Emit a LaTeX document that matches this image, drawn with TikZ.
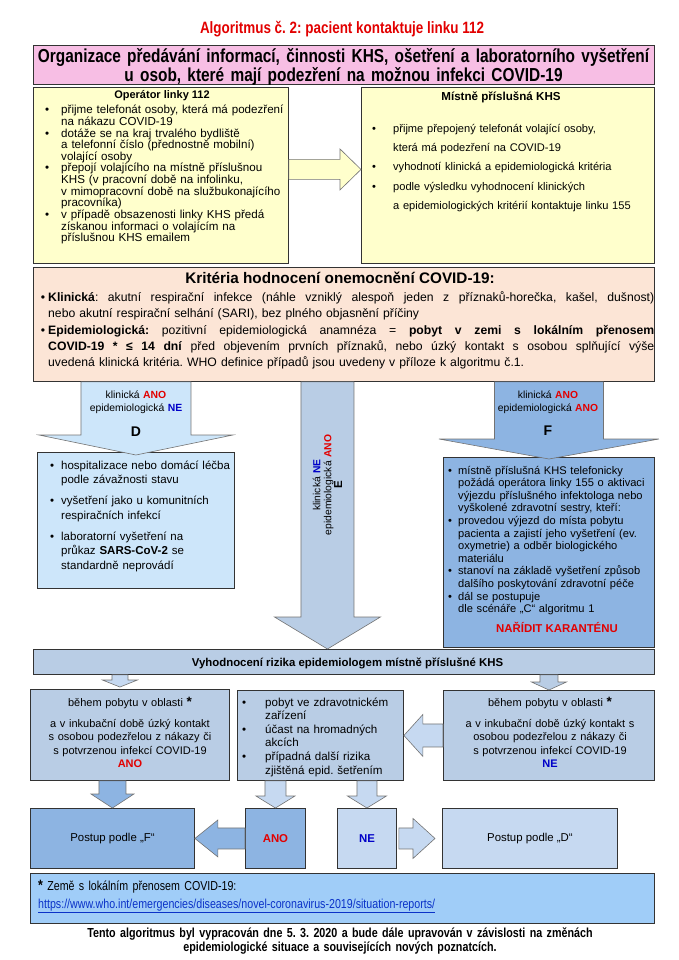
\documentclass[tikz,border=0pt]{standalone}
\usepackage{fontspec}
\setmainfont{Liberation Sans}
\newfontfamily\narrowfont{Liberation Sans}[FakeStretch=0.82]
\usepackage{tikz}
\usetikzlibrary{calc}
\definecolor{pinkHead}{RGB}{247,190,228}
\definecolor{yellowNote}{RGB}{255,255,204}
\definecolor{peachCrit}{RGB}{252,229,214}
\definecolor{skyD}{RGB}{205,230,250}
\definecolor{steelE}{RGB}{185,205,229}
\definecolor{blueF}{RGB}{141,180,226}
\definecolor{greyBlue}{RGB}{185,205,229}
\definecolor{paleBlue}{RGB}{198,217,241}
\definecolor{footBlue}{RGB}{160,205,248}
\definecolor{alarmRed}{RGB}{226,0,0}
\definecolor{noBlue}{RGB}{0,0,200}
\definecolor{linkBlue}{RGB}{10,50,200}
\frenchspacing

\newcommand{\fsz}[2]{\fontsize{#1}{#2}\selectfont}
\newcommand{\bitem}[1][14pt]{\makebox[#1][l]{\textbullet}}
\newcommand{\bcont}[1][14pt]{\hspace*{#1}}
% justified line of a given width
\newcommand{\jline}[2]{\leavevmode\hbox to #1{\spaceskip=0.278em plus 1fil minus 0.05em\relax #2}}
\newcommand{\markANO}{\textcolor{alarmRed}{\textbf{ANO}}}
\newcommand{\markNE}{\textcolor{noBlue}{\textbf{NE}}}
% block arrow: style, from, to, shaft half width, head half width, head length
\newcommand{\blockarrow}[6]{%
  \coordinate (ba-s) at (#2);
  \coordinate (ba-t) at (#3);
  \coordinate (ba-h) at ($(ba-t)!#6!(ba-s)$);
  \draw[#1] ($(ba-s)!#4!90:(ba-t)$) -- ($(ba-h)!#4!-90:(ba-s)$) -- ($(ba-h)!#5!-90:(ba-s)$)
    -- (ba-t) -- ($(ba-h)!#5!90:(ba-s)$) -- ($(ba-h)!#4!90:(ba-s)$) -- ($(ba-s)!#4!-90:(ba-t)$) -- cycle;
}
\tikzset{
  panel/.style={draw=black!80, line width=0.9pt, inner sep=0pt, anchor=north west},
  blockarr/.style={draw=black!55, line width=0.6pt},
  txt/.style={inner sep=0pt},
}

\begin{document}
\begin{tikzpicture}[x=1pt, y=-1pt]
\useasboundingbox (0,0) rectangle (679,960);
% boxes
\node[panel, fill=pinkHead, minimum width=621pt, minimum height=39pt] (head) at (33,45) {};
\node[panel, fill=yellowNote, minimum width=255pt, minimum height=176pt] (oper) at (33,87) {};
\node[panel, fill=yellowNote, minimum width=293pt, minimum height=176pt] (khs) at (361,87) {};
\node[panel, fill=peachCrit, minimum width=621pt, minimum height=114pt] (crit) at (33,267) {};
\node[panel, fill=skyD, minimum width=197pt, minimum height=136pt] (dbox) at (37,452) {};
\node[panel, fill=blueF, minimum width=211pt, minimum height=190pt] (fbox) at (443,457) {};
\node[panel, fill=greyBlue, minimum width=621pt, minimum height=25pt] (bar) at (33,649) {};
\node[panel, fill=greyBlue, minimum width=199pt, minimum height=91pt] (riskA) at (30,689) {};
\node[panel, fill=greyBlue, minimum width=166pt, minimum height=90pt] (riskB) at (237,690) {};
\node[panel, fill=greyBlue, minimum width=211pt, minimum height=90pt] (riskC) at (443,690) {};
\node[panel, fill=blueF, minimum width=164pt, minimum height=60pt, font=\fsz{11.4}{13}] (postF) at (30,808) {Postup podle „F“};
\node[panel, fill=blueF, minimum width=60pt, minimum height=60pt, font=\bfseries\fsz{11.4}{13}, text=alarmRed] (ano) at (245,808) {ANO};
\node[panel, fill=paleBlue, minimum width=59pt, minimum height=60pt, font=\bfseries\fsz{11.4}{13}, text=noBlue] (ne) at (337,808) {NE};
\node[panel, fill=paleBlue, minimum width=175pt, minimum height=60pt, font=\fsz{11.4}{13}] (postD) at (442,808) {Postup podle „D“};
\node[panel, fill=footBlue, minimum width=624pt, minimum height=50pt] (note) at (30,873) {};

% block arrows
\blockarrow{blockarr, fill=yellowNote}{[yshift=6pt]oper.east}{[yshift=6pt]oper.east -| khs.west}{10pt}{20.5pt}{21pt}
\blockarrow{blockarr, fill=skyD}{dbox.north |- crit.south}{[yshift=-3pt]dbox.north}{55pt}{97pt}{20pt}
\coordinate (eTop) at ([xshift=-16.5pt]crit.south);
\blockarrow{blockarr, fill=steelE}{eTop}{eTop |- bar.north}{26.5pt}{53pt}{32pt}
\blockarrow{blockarr, fill=blueF}{fbox.north |- crit.south}{[yshift=-2pt]fbox.north}{54.5pt}{110pt}{20pt}
\blockarrow{blockarr, fill=paleBlue}{[xshift=-10pt]riskA.north |- bar.south}{[xshift=-10pt,yshift=2pt]riskA.north}{8pt}{17.5pt}{7pt}
\blockarrow{blockarr, fill=greyBlue}{riskC.north |- bar.south}{riskC.north}{9pt}{17.5pt}{8pt}
\blockarrow{blockarr, fill=paleBlue}{riskC.west}{riskC.west -| riskB.east}{11.5pt}{21pt}{19pt}
\blockarrow{blockarr, fill=blueF}{postF.north |- riskA.south}{postF.north}{13.5pt}{21.5pt}{14pt}
\blockarrow{blockarr, fill=paleBlue}{ano.north |- riskB.south}{ano.north}{10.5pt}{19.5pt}{12pt}
\blockarrow{blockarr, fill=paleBlue}{ne.north |- riskB.south}{ne.north}{10pt}{19.5pt}{12pt}
\blockarrow{blockarr, fill=blueF}{ano.west}{postF.east}{10.5pt}{18.5pt}{23pt}
\blockarrow{blockarr, fill=paleBlue}{[xshift=2pt]ne.east}{[xshift=-7pt]postD.west}{10.5pt}{20pt}{22pt}

% title and header
\node[txt, anchor=base, font=\narrowfont\bfseries\fsz{16.4}{18}, text=alarmRed] (title) at (342,33.5) {Algoritmus č. 2: pacient kontaktuje linku 112};
\node[txt, anchor=base, text width=621pt, align=center, font=\narrowfont\bfseries\fsz{18.8}{18}] (headText) at (343.5,62.5) {Organizace předávání informací, činnosti KHS, ošetření a laboratorního vyšetření\\u osob, které mají podezření na možnou infekci COVID-19};

% operator
\node[txt, anchor=base, font=\bfseries\fsz{11}{12}] (operTitle) at (162,99) {Operátor linky 112};
\node[txt, anchor=base west, text width=242pt, align=left, font=\fsz{11.6}{11.6}] (operList) at (45,114) {%
\bitem[16pt]přijme telefonát osoby, která má podezření\\
\bcont[16pt]na nákazu COVID-19\\
\bitem[16pt]dotáže se na kraj trvalého bydliště\\
\bcont[16pt]a telefonní číslo (přednostně mobilní)\\
\bcont[16pt]volající osoby\\
\bitem[16pt]přepojí volajícího na místně příslušnou\\
\bcont[16pt]KHS (v pracovní době na infolinku,\\
\bcont[16pt]v mimopracovní době na službukonajícího\\
\bcont[16pt]pracovníka)\\
\bitem[16pt]v případě obsazenosti linky KHS předá\\
\bcont[16pt]získanou informaci o volajícím na\\
\bcont[16pt]příslušnou KHS emailem};

% KHS
\node[txt, anchor=base, font=\bfseries\fsz{11.6}{12}] (khsTitle) at (501,101) {Místně příslušná KHS};
\node[txt, anchor=base west, text width=275pt, align=left, font=\fsz{11.1}{19.2}] (khsList) at (372,132.5) {%
\bitem[21pt]přijme přepojený telefonát volající osoby,\\
\bcont[21pt]která má podezření na COVID-19\\
\bitem[21pt]vyhodnotí klinická a epidemiologická kritéria\\
\bitem[21pt]podle výsledku vyhodnocení klinických\\
\bcont[21pt]a epidemiologických kritérií kontaktuje linku 155};

% criteria
\node[txt, anchor=base, font=\bfseries\fsz{15.3}{16}] (critTitle) at (340,283.5) {Kritéria hodnocení onemocnění COVID-19:};
\node[txt, anchor=base west, text width=606pt, align=left, font=\fsz{12.2}{16.3}] (critList) at (48,301.5) {%
\jline{606pt}{\llap{\textbullet\hspace{3pt}}\textbf{Klinická}: akutní respirační infekce (náhle vzniklý alespoň jeden z příznaků-horečka, kašel, dušnost)}\\
nebo akutní respirační selhání (SARI), bez plného objasnění příčiny\\
\jline{606pt}{\llap{\textbullet\hspace{3pt}}\textbf{Epidemiologická:} pozitivní epidemiologická anamnéza = \textbf{pobyt v zemi s lokálním přenosem}}\\
\jline{606pt}{\textbf{COVID-19 * ≤ 14 dní} před objevením prvních příznaků, nebo úzký kontakt s osobou splňující výše}\\
uvedená klinická kritéria. WHO definice případů jsou uvedeny v příloze k algoritmu č.1.};

% arrow labels
\node[txt, anchor=base, text width=120pt, align=center, font=\fsz{10.4}{13}] (dLab) at (136,398.5) {klinická \markANO\\epidemiologická \markNE\\[11.5pt]{\fsz{14}{14}\bfseries D}};
\node[txt, anchor=base, text width=120pt, align=center, font=\fsz{10.3}{13}] (fLab) at (548,398.5) {klinická \markANO\\epidemiologická \markANO\\[10.5pt]{\fsz{14}{14}\bfseries F}};
\node[txt, rotate=90, text width=120pt, align=center, font=\fsz{10.3}{10.8}] (eLab) at (327.5,485) {klinická \markNE\\epidemiologická \markANO\\{\fsz{11.5}{11}\bfseries E}};

% D and F boxes
\node[txt, anchor=base west, text width=185pt, align=left, font=\fsz{11.5}{14.5}] (dList) at (50,469) {%
\bitem[11pt]hospitalizace nebo domácí léčba\\
\bcont[11pt]podle závažnosti stavu\\[6.5pt]
\bitem[11pt]vyšetření jako u komunitních\\
\bcont[11pt]respiračních infekcí\\[6.5pt]
\bitem[11pt]laboratorní vyšetření na\\
\bcont[11pt]průkaz \textbf{SARS-CoV-2} se\\
\bcont[11pt]standardně neprovádí};
\node[txt, anchor=base west, text width=210pt, align=left, font=\fsz{11.1}{12.6}] (fList) at (448,474) {%
\bitem[10pt]místně příslušná KHS telefonicky\\
\bcont[10pt]požádá operátora linky 155 o aktivaci\\
\bcont[10pt]výjezdu příslušného infektologa nebo\\
\bcont[10pt]vyškolené zdravotní sestry, kteří:\\
\bitem[10pt]provedou výjezd do místa pobytu\\
\bcont[10pt]pacienta a zajistí jeho vyšetření (ev.\\
\bcont[10pt]oxymetrie) a odběr biologického\\
\bcont[10pt]materiálu\\
\bitem[10pt]stanoví na základě vyšetření způsob\\
\bcont[10pt]dalšího poskytování zdravotní péče\\
\bitem[10pt]dál se postupuje\\
\bcont[10pt]dle scénáře „C“ algoritmu 1};
\node[txt, anchor=base, font=\bfseries\fsz{11.4}{13}, text=alarmRed] (fOrder) at (557,632) {NAŘÍDIT KARANTÉNU};

% evaluation bar and risk boxes
\node[txt, anchor=base, font=\bfseries\fsz{11.4}{12}] (barText) at (347.5,666) {Vyhodnocení rizika epidemiologem místně příslušné KHS};
\node[txt, anchor=base, text width=197pt, align=center, font=\fsz{11}{13.6}] (riskAText) at (130,706) {během pobytu v oblasti {\fsz{13.5}{13}\bfseries *}\\[7.4pt]a v inkubační době úzký kontakt\\s osobou podezřelou z nákazy či\\s potvrzenou infekcí COVID-19\\\markANO};
\node[txt, anchor=base west, text width=160pt, align=left, font=\fsz{11.6}{13.6}] (riskBList) at (242,706) {%
\bitem[23pt]pobyt ve zdravotnickém\\
\bcont[23pt]zařízení\\
\bitem[23pt]účast na hromadných\\
\bcont[23pt]akcích\\
\bitem[23pt]případná další rizika\\
\bcont[23pt]zjištěná epid. šetřením};
\node[txt, anchor=base, text width=209pt, align=center, font=\fsz{11}{13.6}] (riskCText) at (550,706) {během pobytu v oblasti {\fsz{13.5}{13}\bfseries *}\\[7.4pt]a v inkubační době úzký kontakt s\\osobou podezřelou z nákazy či\\s potvrzenou infekcí COVID-19\\\markNE};

% footnote and footer
\node[txt, anchor=base west, text width=615pt, align=left, font=\narrowfont\fsz{13}{18}] (noteText) at (38,890) {{\bfseries\fsz{15}{18}*} Země s lokálním přenosem COVID-19:\\
\textcolor{linkBlue}{\underline{https://www.who.int/emergencies/diseases/novel-coronavirus-2019/situation-reports/}}};
\node[txt, anchor=base, text width=660pt, align=center, font=\narrowfont\bfseries\fsz{13.1}{14}] (footer) at (340,937) {Tento algoritmus byl vypracován dne 5. 3. 2020 a bude dále upravován v závislosti na změnách\\epidemiologické situace a souvisejících nových poznatcích.};
\end{tikzpicture}
\end{document}
